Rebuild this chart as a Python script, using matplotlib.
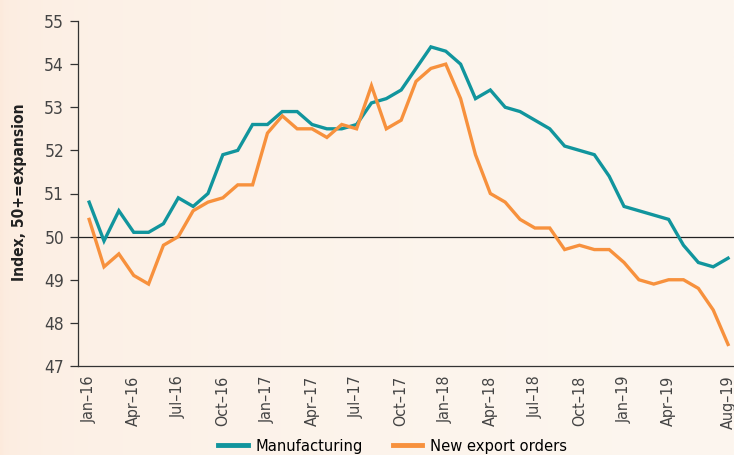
import matplotlib
matplotlib.use("Agg")
import matplotlib.pyplot as plt
from matplotlib import font_manager
import numpy as np
from matplotlib.lines import Line2D

# --- DATA ---
months = ["Jan", "Feb", "Mar", "Apr", "May", "Jun", "Jul", "Aug", "Sep", "Oct", "Nov", "Dec"]
years = ["16", "17", "18", "19"]
dates = [m + "\u2013" + y for y in years for m in months][:44]  # Jan-16 .. Aug-19

manufacturing = [50.8, 49.9, 50.6, 50.1, 50.1, 50.3, 50.9, 50.7, 51.0, 51.9, 52.0, 52.6,
                 52.6, 52.9, 52.9, 52.6, 52.5, 52.5, 52.6, 53.1, 53.2, 53.4, 53.9, 54.4,
                 54.3, 54.0, 53.2, 53.4, 53.0, 52.9, 52.7, 52.5, 52.1, 52.0, 51.9, 51.4,
                 50.7, 50.6, 50.5, 50.4, 49.8, 49.4, 49.3, 49.5]
export_orders = [50.4, 49.3, 49.6, 49.1, 48.9, 49.8, 50.0, 50.6, 50.8, 50.9, 51.2, 51.2,
                 52.4, 52.8, 52.5, 52.5, 52.3, 52.6, 52.5, 53.5, 52.5, 52.7, 53.6, 53.9,
                 54.0, 53.2, 51.9, 51.0, 50.8, 50.4, 50.2, 50.2, 49.7, 49.8, 49.7, 49.7,
                 49.4, 49.0, 48.9, 49.0, 49.0, 48.8, 48.3, 47.5]
y_ticks = [47, 48, 49, 50, 51, 52, 53, 54, 55]
tick_idx = list(range(0, 40, 3)) + [43]

TEAL = "#11959D"
ORANGE = "#F7913D"

# pick a narrow face if one is around
names = {f.name for f in font_manager.fontManager.ttflist}
stretches = {(f.name, f.stretch) for f in font_manager.fontManager.ttflist}
if "Liberation Sans Narrow" in names:
    FONT, STRETCH, SQUEEZE = ["Liberation Sans Narrow", "DejaVu Sans"], "normal", 1.0
elif any(n == "DejaVu Sans" and s == "condensed" for n, s in stretches):
    FONT, STRETCH, SQUEEZE = ["DejaVu Sans"], "condensed", 0.92
else:
    FONT, STRETCH, SQUEEZE = ["DejaVu Sans"], "normal", 0.8

plt.rcParams["font.family"] = FONT
plt.rcParams["font.stretch"] = STRETCH

fig = plt.figure(figsize=(7.34, 4.55), dpi=100)

# soft peach background, a bit warmer on the left
bg = fig.add_axes([0, 0, 1, 1], zorder=-10)
grad = np.linspace(0, 1, 256) ** 0.3
c0 = np.array([252, 234, 220]) / 255
c1 = np.array([253, 246, 239]) / 255
img = c0[None, :] * (1 - grad[:, None]) + c1[None, :] * grad[:, None]
bg.imshow(img[None, :, :], aspect="auto", extent=[0, 1, 0, 1])
bg.axis("off")

ax = fig.add_axes([78 / 734, 89 / 455, 1 - 78 / 734, 345 / 455])
ax.patch.set_alpha(0)

x = np.arange(len(dates))
ax.plot(x, manufacturing, color=TEAL, lw=2.4, solid_joinstyle="miter", zorder=3)
ax.plot(x, export_orders, color=ORANGE, lw=2.4, solid_joinstyle="miter", zorder=3)
ax.axhline(50, color="#222222", lw=0.9, zorder=2)

ax.set_xlim(-0.75, 43.4)
ax.set_ylim(47, 55)
ax.set_yticks(y_ticks)
ax.set_yticklabels([str(v) for v in y_ticks], fontsize=13.5 * SQUEEZE, color="#444444")
ax.set_xticks(tick_idx)
ax.set_xticklabels([dates[i] for i in tick_idx], rotation=90, fontsize=12.5 * SQUEEZE,
                   color="#444444")
ax.tick_params(axis="x", length=0, pad=7)
ax.tick_params(axis="y", length=6, width=0.9, color="#333333", pad=4)

for s in ["top", "right"]:
    ax.spines[s].set_visible(False)
for s in ["left", "bottom"]:
    ax.spines[s].set_color("#333333")
    ax.spines[s].set_linewidth(0.9)

fig.text(0.027, 1 - 192 / 455, "Index, 50+=expansion", rotation=90,
         fontsize=12.2 * SQUEEZE, fontweight="bold", color="#222222", ha="center", va="center")

handles = [Line2D([0], [0], color=TEAL, lw=3.5), Line2D([0], [0], color=ORANGE, lw=3.5)]
fig.legend(handles, ["Manufacturing", "New export orders"], loc="center",
           bbox_to_anchor=(0.535, 1 - 446 / 455), ncol=2, frameon=False,
           fontsize=12.8 * SQUEEZE, handlelength=1.8, columnspacing=1.8,
           handletextpad=0.5, borderpad=0, borderaxespad=0)

fig.savefig("out.png", dpi=100)
